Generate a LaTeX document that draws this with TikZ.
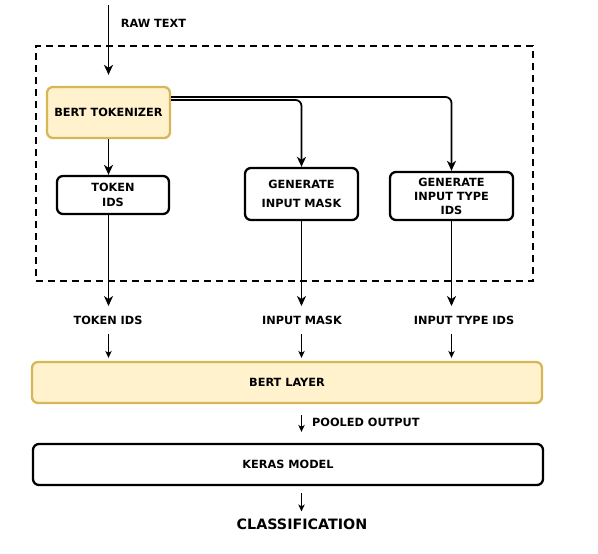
\documentclass[tikz,border=0pt]{standalone}
\usepackage{fontspec}
\setmainfont{DejaVu Sans}
\usetikzlibrary{arrows.meta}
\definecolor{tokfill}{HTML}{FFF2CC}
\definecolor{tokdraw}{HTML}{D6B656}
\begin{document}
\begin{tikzpicture}[x=1pt,y=-1pt,
 every node/.style={font=\fontsize{11.3}{13}\selectfont\bfseries},
 procbox/.style={draw=black, line width=2.3pt, rounded corners=6pt, align=center, inner sep=0pt},
 yelbox/.style={procbox, draw=tokdraw, fill=tokfill},
 groupbox/.style={draw=black, line width=2.8pt, dash pattern=on 7pt off 5pt},
 mainarrow/.style={draw, line width=1.8pt, -{Stealth[length=10pt,width=9pt,inset=3pt]}},
 thinarrow/.style={draw, line width=1pt, -{Stealth[length=7pt,width=6.5pt,inset=2pt]}},
 lbl/.style={inner xsep=1pt, inner ysep=9.5pt},
]
\useasboundingbox (0,0) rectangle (598,554);
\node[groupbox, minimum width=497pt, minimum height=235pt] (grp) at (284.5,163.5) {};
\node[yelbox, minimum width=123pt, minimum height=51pt] (tok) at (108.5,112.5) {BERT TOKENIZER};
\node[procbox, minimum width=112pt, minimum height=38pt] (tid) at (113,195) {TOKEN\\[2pt]IDS};
\node[procbox, minimum width=113pt, minimum height=52pt] (mask) at (301.5,194) {GENERATE\\[6pt]INPUT MASK};
\node[procbox, minimum width=123pt, minimum height=48pt] (type) at (451.5,196) {GENERATE\\[1pt]INPUT TYPE\\[1pt]IDS};
\node (raw) at (153.5,23) {RAW TEXT};
\coordinate (rawstart) at (108.5,5);
\node[lbl] (ltid) at (108,320) {TOKEN IDS};
\node[lbl] (lmask) at (302,320) {INPUT MASK};
\node[lbl] (ltype) at (464,320) {INPUT TYPE IDS};
\node[yelbox, minimum width=510pt, minimum height=41pt] (bert) at (287,382.5) {BERT LAYER};
\node[procbox, minimum width=510pt, minimum height=41pt] (keras) at (288,464.5) {KERAS MODEL};
\node[anchor=west, inner sep=0pt] (pooled) at (312,422) {POOLED OUTPUT};
\node[inner xsep=0pt, inner ysep=7pt, font=\fontsize{14.3}{17}\selectfont\bfseries] (cls) at (302,524) {CLASSIFICATION};

\draw[mainarrow] (rawstart) -- ([yshift=11pt]tok.north);
\draw[mainarrow] (tok.south) -- (tok.south |- tid.north);
\draw[mainarrow, rounded corners=6pt] ([yshift=12.5pt]tok.east) -| (mask.north);
\draw[mainarrow, rounded corners=6pt] ([yshift=15.5pt]tok.east) -| (type.north);
\draw[mainarrow] (tid.south -| tok.south) -- (tok.south |- ltid.north);
\draw[mainarrow] (mask.south) -- (mask.south |- lmask.north);
\draw[mainarrow] (type.south) -- (type.south |- ltype.north);
\draw[thinarrow, shorten >=3pt] (ltid.south -| tok.south) -- (tok.south |- bert.north);
\draw[thinarrow, shorten >=3pt] (lmask.south -| mask.south) -- (mask.south |- bert.north);
\draw[thinarrow, shorten >=3pt] (ltype.south -| type.south) -- (type.south |- bert.north);
\draw[thinarrow, shorten <=11pt, shorten >=11pt] (mask.south |- bert.south) -- (mask.south |- keras.north);
\draw[thinarrow, shorten <=7pt] (mask.south |- keras.south) -- (mask.south |- cls.north);
\end{tikzpicture}
\end{document}
